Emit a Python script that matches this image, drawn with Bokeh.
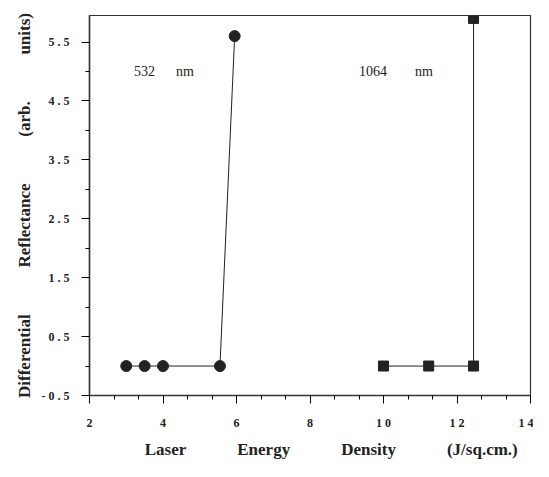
from bokeh.plotting import figure
from bokeh.models import FixedTicker, SingleIntervalTicker, Range1d, Label
from bokeh.embed import file_html
from bokeh.resources import INLINE

# data
x_532 = [3.0, 3.5, 4.0, 5.55, 5.95]
y_532 = [0.0, 0.0, 0.0, 0.0, 5.6]
x_1064 = [10.0, 11.23, 12.45, 12.45]
y_1064 = [0.0, 0.0, 0.0, 5.9]
x_ticks = [2, 4, 6, 8, 10, 12, 14]
y_ticks = [-0.5, 0.5, 1.5, 2.5, 3.5, 4.5, 5.5]
x_tick_labels = ["2", "4", "6", "8", "1 0", "1 2", "1 4"]
y_tick_labels = ["- 0 . 5", "0 . 5", "1 . 5", "2 . 5", "3 . 5", "4 . 5", "5 . 5"]

NB = "\u00a0"
FONT = "Liberation Serif"

p = figure(width=533, height=461, output_backend="svg", toolbar_location=None,
           x_range=Range1d(2, 14), y_range=Range1d(-0.5, 5.95),
           min_border_left=89, min_border_right=3, min_border_top=15, min_border_bottom=62)
p.grid.visible = False
p.background_fill_color = "white"
p.border_fill_color = "white"
p.outline_line_color = "#333333"
p.outline_line_width = 1.2

yminor = [y_ticks[0] + i * 0.5 for i in range(2 * (len(y_ticks) - 1) + 1)]
p.xaxis.ticker = SingleIntervalTicker(interval=2, num_minor_ticks=3)
p.yaxis.ticker = FixedTicker(ticks=y_ticks, minor_ticks=yminor)
p.xaxis.major_label_overrides = {t: l for t, l in zip(x_ticks, x_tick_labels)}
p.yaxis.major_label_overrides = {t: l for t, l in zip(y_ticks, y_tick_labels)}

for ax in (p.xaxis, p.yaxis):
    ax.axis_line_color = "#333333"
    ax.axis_line_width = 1.5
    ax.major_tick_in = 0
    ax.major_tick_out = 8
    ax.minor_tick_in = 0
    ax.minor_tick_out = 4
    ax.major_tick_line_color = "black"
    ax.minor_tick_line_color = "black"
    ax.major_tick_line_width = 1
    ax.minor_tick_line_width = 1
    ax.major_label_text_font = FONT
    ax.major_label_text_font_style = "bold"
    ax.major_label_text_font_size = "12px"
    ax.major_label_text_color = "#222222"
    ax.axis_label_text_font = FONT
    ax.axis_label_text_font_style = "bold"
    ax.axis_label_text_font_size = "17px"
    ax.axis_label_text_color = "#222222"

p.xaxis.major_label_standoff = 12
p.yaxis.major_label_standoff = 12
p.xaxis.axis_label = NB * 10 + ("Laser" + NB * 12 + "Energy" + NB * 12 + "Density" + NB * 12 + "(J/sq.cm.)")
p.yaxis.axis_label = "Differential" + NB * 11 + "Reflectance" + NB * 11 + "(arb." + NB * 11 + "units)"
p.xaxis.axis_label_standoff = 7
p.yaxis.axis_label_standoff = 5

p.line(x_532, y_532, line_color="#222222", line_width=1)
p.scatter(x_532, y_532, marker="circle", size=11, fill_color="#222222", line_color="#222222")
p.line(x_1064, y_1064, line_color="#222222", line_width=1)
p.scatter(x_1064, y_1064, marker="square", size=10, fill_color="#222222", line_color="#222222")

p.add_layout(Label(x=3.21, y=5.0, text="532" + NB * 6 + "nm", text_font=FONT,
                   text_font_size="14px", text_baseline="middle", text_color="#222222"))
p.add_layout(Label(x=9.33, y=5.0, text="1064" + NB * 8 + "nm", text_font=FONT,
                   text_font_size="14px", text_baseline="middle", text_color="#222222"))

open("out.html", "w").write(file_html(p, INLINE))
